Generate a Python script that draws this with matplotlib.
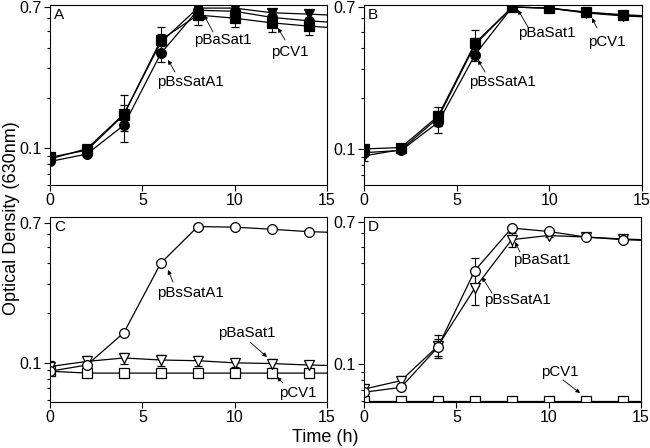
import matplotlib
matplotlib.use("Agg")
import matplotlib.pyplot as plt
import numpy as np

plt.rcParams['font.family'] = ['Liberation Sans', 'DejaVu Sans']

time = [0, 2, 4, 6, 8, 10, 12, 14, 16]

# Panel A (filled markers)
A_circ = [0.083, 0.092, 0.137, 0.369, 0.67, 0.66, 0.607, 0.579, 0.56]
A_sq = [0.088, 0.097, 0.158, 0.444, 0.627, 0.60, 0.563, 0.538, 0.52]
A_tri = [0.086, 0.099, 0.16, 0.43, 0.69, 0.69, 0.647, 0.635, 0.62]
A_circ_err = [0.003, 0.003, 0.01, 0.04, 0.03, 0.02, 0.02, 0.02, 0.0]
A_sq_err = [0.004, 0.004, 0.05, 0.09, 0.08, 0.07, 0.066, 0.06, 0.0]
A_tri_err = [0.003, 0.004, 0.02, 0.05, 0.03, 0.02, 0.03, 0.03, 0.0]

# Panel B (filled markers)
B_circ = [0.095, 0.098, 0.144, 0.365, 0.70, 0.69, 0.65, 0.625, 0.61]
B_sq = [0.10, 0.102, 0.157, 0.428, 0.70, 0.69, 0.653, 0.63, 0.615]
B_tri = [0.091, 0.099, 0.153, 0.42, 0.70, 0.69, 0.645, 0.62, 0.605]
B_circ_err = [0.004, 0.003, 0.02, 0.03, 0.01, 0.01, 0.01, 0.01, 0.0]
B_sq_err = [0.004, 0.003, 0.02, 0.08, 0.01, 0.01, 0.01, 0.01, 0.0]
B_tri_err = [0.006, 0.003, 0.015, 0.04, 0.01, 0.01, 0.01, 0.01, 0.0]

# Panel C (open markers)
C_circ = [0.089, 0.097, 0.152, 0.40, 0.665, 0.66, 0.641, 0.62, 0.61]
C_tri = [0.095, 0.102, 0.107, 0.104, 0.103, 0.10, 0.099, 0.097, 0.096]
C_sq = [0.089, 0.0867, 0.0867, 0.0867, 0.0867, 0.0867, 0.0867, 0.0867, 0.0867]
C_tri_err = [0.008, 0.008, 0.008, 0.008, 0.007, 0.006, 0.006, 0.006, 0.0]

# Panel D (open markers)
D_circ = [0.068, 0.0727, 0.126, 0.36, 0.645, 0.615, 0.57, 0.55, 0.54]
D_tri = [0.071, 0.0797, 0.128, 0.283, 0.55, 0.582, 0.57, 0.555, 0.545]
D_sq = [0.0605, 0.0605, 0.0605, 0.0605, 0.0605, 0.0605, 0.0605, 0.0605, 0.0605]
D_circ_err = [0.002, 0.003, 0.015, 0.067, 0.02, 0.01, 0.01, 0.01, 0.0]
D_tri_err = [0.003, 0.005, 0.02, 0.057, 0.05, 0.01, 0.01, 0.01, 0.0]

fig = plt.figure(figsize=(6.5, 4.48), dpi=100)
W, H = 650, 448


def add_ax(l, t, r, b):
    return fig.add_axes([l / W, 1 - b / H, (r - l) / W, (b - t) / H])


axA = add_ax(50, 5, 327, 185)
axB = add_ax(364, 5, 642, 185)
axC = add_ax(50, 217, 327, 402)
axD = add_ax(364, 217, 641, 402)

lw = 0.9
ms = 7


def series(ax, y, err, marker, filled):
    fc = 'black' if filled else 'white'
    ax.errorbar(time, y, yerr=err, color='black', lw=lw, marker=marker,
                markersize=ms, markerfacecolor=fc, markeredgecolor='black',
                markeredgewidth=0.9, capsize=3, elinewidth=0.8, capthick=0.8,
                clip_on=True)


series(axA, A_circ, A_circ_err, 'o', True)
series(axA, A_tri, A_tri_err, 'v', True)
series(axA, A_sq, A_sq_err, 's', True)

series(axB, B_circ, B_circ_err, 'o', True)
series(axB, B_tri, B_tri_err, 'v', True)
series(axB, B_sq, B_sq_err, 's', True)

series(axC, C_sq, None, 's', False)
series(axC, C_tri, C_tri_err, 'v', False)
series(axC, C_circ, None, 'o', False)

series(axD, D_sq, None, 's', False)
series(axD, D_tri, D_tri_err, 'v', False)
series(axD, D_circ, D_circ_err, 'o', False)

ylims = {axA: (0.06, 0.72), axB: (0.061, 0.72), axC: (0.058, 0.76), axD: (0.0595, 0.75)}
letters = {axA: 'A', axB: 'B', axC: 'C', axD: 'D'}
minor = [0.06, 0.07, 0.08, 0.09, 0.2, 0.3, 0.4, 0.5, 0.6]

for ax in (axA, axB, axC, axD):
    ax.set_yscale('log')
    ax.set_xlim(0, 15)
    ax.set_ylim(*ylims[ax])
    ax.set_xticks([0, 5, 10, 15])
    ax.set_yticks([0.1, 0.7])
    ax.set_yticklabels(['0.1', '0.7'])
    ax.set_yticks([m for m in minor if ylims[ax][0] <= m], minor=True)
    ax.yaxis.set_minor_formatter(matplotlib.ticker.NullFormatter())
    ax.tick_params(axis='both', which='major', direction='out', length=4,
                   width=0.8, labelsize=11.5, pad=2)
    ax.tick_params(axis='y', which='minor', direction='out', length=2.5, width=0.8)
    for s in ax.spines.values():
        s.set_linewidth(0.8)
    ax.text(0.015, 0.985, letters[ax], transform=ax.transAxes, va='top',
            ha='left', fontsize=11)


def to_data(ax, px, py):
    disp = (px, H - py)
    return ax.transData.inverted().transform(disp)


fig.canvas.draw()


def ann(ax, text, tx, ty, ax0, ay0, ax1, ay1):
    ax.text(*to_data(ax, tx, ty), text, ha='center', va='center', fontsize=10.8)
    ax.annotate('', xy=to_data(ax, ax1, ay1), xytext=to_data(ax, ax0, ay0),
                arrowprops=dict(arrowstyle='-|>', color='black', lw=0.6,
                                mutation_scale=6, shrinkA=0, shrinkB=0))


ann(axA, 'pBaSat1', 223, 40, 213, 32, 204, 15)
ann(axA, 'pCV1', 290, 52, 285, 40, 278, 28)
ann(axA, 'pBsSatA1', 190, 82, 175, 72, 168, 60)

ann(axB, 'pBaSat1', 547, 33, 528, 27, 518, 10)
ann(axB, 'pCV1', 607, 42, 597, 28, 592, 18)
ann(axB, 'pBsSatA1', 502, 82, 485, 72, 478, 60)

ann(axC, 'pBsSatA1', 190, 293, 173, 282, 168, 270)
ann(axC, 'pBaSat1', 247, 333, 250, 342, 267, 357)
ann(axC, 'pCV1', 298, 393, 283, 383, 277, 377)

ann(axD, 'pBaSat1', 542, 260, 520, 252, 515, 242)
ann(axD, 'pBsSatA1', 517, 300, 492, 293, 482, 277)
ann(axD, 'pCV1', 560, 372, 563, 380, 580, 393)

fig.text(12 / W, 1 - 218 / H, 'Optical Density (630nm)', rotation=90,
         ha='center', va='center', fontsize=13)
fig.text(325 / W, 1 - 437 / H, 'Time (h)', ha='center', va='center', fontsize=13)

fig.savefig('out.png', dpi=100)
